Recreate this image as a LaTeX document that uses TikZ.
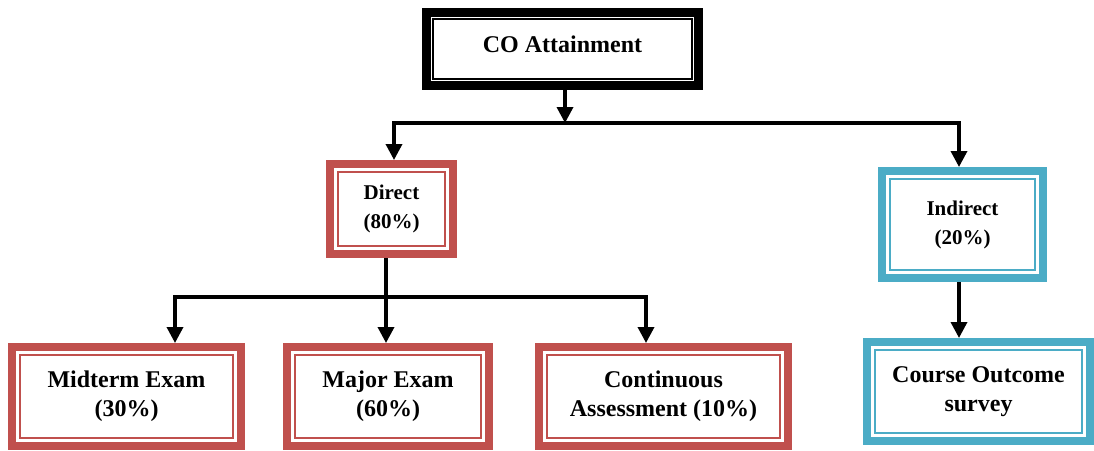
\documentclass[tikz,border=0pt]{standalone}
\usepackage{fontspec}
\setmainfont{Liberation Serif}
\usetikzlibrary{arrows.meta}
\definecolor{boxred}{HTML}{C0504D}
\definecolor{boxblue}{HTML}{4BACC6}
\tikzset{
  framebox/.style 2 args={draw=#1, line width=8pt, fill=white, align=center, inner sep=0pt,
    font=\bfseries\fontsize{24}{29}\selectfont,
    path picture={\draw[#1, line width=2pt]
      ([shift={(#2,-#2)}]path picture bounding box.north west) rectangle
      ([shift={(-#2,#2)}]path picture bounding box.south east);}},
  smalltext/.style={font=\bfseries\fontsize{21}{29}\selectfont},
  conn/.style={line width=3.5pt, -{Triangle[width=16pt,length=16pt]}},
}
\begin{document}
\begin{tikzpicture}[x=1pt,y=-1pt]
\useasboundingbox (0,0) rectangle (1094,450);
\node[framebox={black}{6.5pt}, line width=9pt, minimum width=272pt, minimum height=73pt, text depth=9pt] (co) at (562.5,49) {CO Attainment};
\node[framebox={boxred}{8pt}, smalltext, minimum width=123pt, minimum height=90pt] (direct) at (391.5,209) {Direct\\(80\%)};
\node[framebox={boxblue}{8pt}, smalltext, minimum width=161pt, minimum height=107pt] (indirect) at (962.5,224.5) {Indirect\\(20\%)};
\node[framebox={boxred}{8pt}, minimum width=229pt, minimum height=99pt] (midterm) at (126.5,396.5) {Midterm Exam\\(30\%)};
\node[framebox={boxred}{8pt}, minimum width=202pt, minimum height=99pt] (major) at (388,396.5) {Major Exam\\(60\%)};
\node[framebox={boxred}{8pt}, minimum width=249pt, minimum height=99pt] (cont) at (663.5,396.5) {Continuous\\Assessment (10\%)};
\node[framebox={boxblue}{8pt}, minimum width=223pt, minimum height=99pt] (course) at (978.5,391.5) {Course Outcome\\survey};
\coordinate (top) at (565,123);
\coordinate (mid) at (386,297);
\draw[conn] (co.south -| top) -- (top);
\draw[conn] (top) -| ([xshift=2.5pt]direct.north);
\draw[conn] (top) -| ([xshift=-3.5pt]indirect.north);
\draw[conn] ([xshift=-5.5pt]direct.south) -- ([xshift=-2pt]major.north);
\draw[conn] (mid) -| ([xshift=48.5pt]midterm.north);
\draw[conn] (mid) -| ([xshift=-17.5pt]cont.north);
\draw[conn] ([xshift=-3.5pt]indirect.south) -- ([xshift=-19.5pt]course.north);
\end{tikzpicture}
\end{document}
